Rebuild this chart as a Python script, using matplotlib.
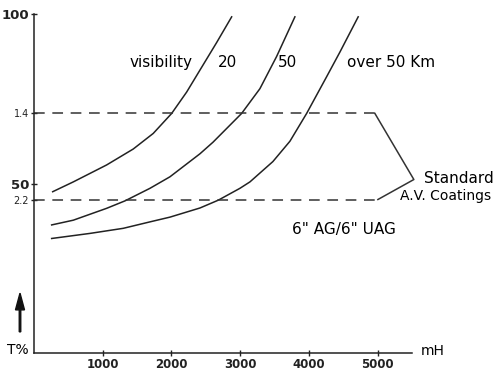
import matplotlib
matplotlib.use("Agg")
import matplotlib.pyplot as plt
from matplotlib.patches import FancyArrow

plt.rcParams['font.family'] = ['DejaVu Sans']

# visibility curves (altitude mH, T%)
vis20_x = [272, 572, 1057, 1444, 1735, 2003, 2221, 2415, 2657, 2876]
vis20_y = [47.6, 50.5, 55.5, 60.2, 64.8, 70.7, 77.0, 83.5, 91.6, 99.2]

vis50_x = [257, 572, 1057, 1324, 1687, 1978, 2415, 2604, 3021, 3287, 3530, 3796]
vis50_y = [37.8, 39.2, 42.7, 44.9, 48.6, 52.0, 58.8, 62.2, 70.7, 78.0, 87.5, 99.2]

over50_x = [257, 815, 1299, 1687, 1978, 2415, 2681, 2996, 3142, 3476, 3724,
            3967, 4257, 4451, 4717]
over50_y = [33.8, 35.3, 36.8, 38.7, 40.1, 42.8, 45.1, 48.6, 50.5, 56.5, 62.5,
            70.7, 81.5, 88.8, 99.2]

# standard A.V. coatings bracket
coat_hi = 70.7
coat_lo = 45.3
coat_end_hi = 4960
coat_end_lo = 5004
coat_tip = (5527, 51.2)

fig = plt.figure(figsize=(5, 3.72), dpi=100)
ax = fig.add_axes([0.068, 0.051, 0.756, 0.911])

for xs, ys in [(vis20_x, vis20_y), (vis50_x, vis50_y), (over50_x, over50_y)]:
    ax.plot(xs, ys, color='#222222', lw=1.1)

ax.plot([0, coat_end_hi], [coat_hi, coat_hi], color='#333333', lw=1.1,
        dashes=(7, 5))
ax.plot([0, coat_end_lo], [coat_lo, coat_lo], color='#333333', lw=1.1,
        dashes=(7, 5))
ax.plot([coat_end_hi, coat_tip[0], coat_end_lo], [coat_hi, coat_tip[1], coat_lo],
        color='#333333', lw=1.1, clip_on=False)

ax.set_xlim(0, 5500)
ax.set_ylim(0, 100)
ax.spines['top'].set_visible(False)
ax.spines['right'].set_visible(False)
for s in ['left', 'bottom']:
    ax.spines[s].set_linewidth(1.1)
    ax.spines[s].set_color('#222222')

ax.set_xticks([1000, 2000, 3000, 4000, 5000])
ax.set_xticklabels(['1000', '2000', '3000', '4000', '5000'], fontweight='bold')
ax.set_yticks([100, coat_hi, 50, coat_lo])
ax.set_yticklabels(['100', '1.4', '50', '2.2'])
ax.tick_params(direction='inout', length=5, width=1, labelsize=8.5, colors='#222222')
ax.tick_params(axis='x', pad=1)
ax.tick_params(axis='y', pad=1)
for lab in ax.get_yticklabels():
    if lab.get_text() in ('100', '50'):
        lab.set_fontweight('bold')
        lab.set_fontsize(9.5)
    else:
        lab.set_fontsize(7)

ax.text(2300, 85.8, 'visibility', fontsize=11, ha='right', va='center')
ax.text(2676, 85.8, '20', fontsize=11, ha='left', va='center')
ax.text(3549, 85.8, '50', fontsize=11, ha='left', va='center')
ax.text(4553, 85.8, 'over 50 Km', fontsize=11, ha='left', va='center')
ax.text(5680, 51.4, 'Standard', fontsize=11, ha='left', va='center')
ax.text(5330, 46.3, 'A.V. Coatings', fontsize=10, ha='left', va='center')
ax.text(3750, 36.5, '6" AG/6" UAG', fontsize=11, ha='left', va='center')
ax.text(5630, 0.5, 'mH', fontsize=10, ha='left', va='center')

fig.text(0.014, 0.058, 'T%', fontsize=10, ha='left', va='center')
fig.patches.append(FancyArrow(
    0.04, 0.108, 0, 0.104, width=0.003, head_width=0.018, head_length=0.045,
    length_includes_head=True, color='#111111', transform=fig.transFigure))

fig.savefig('out.png', dpi=100)
